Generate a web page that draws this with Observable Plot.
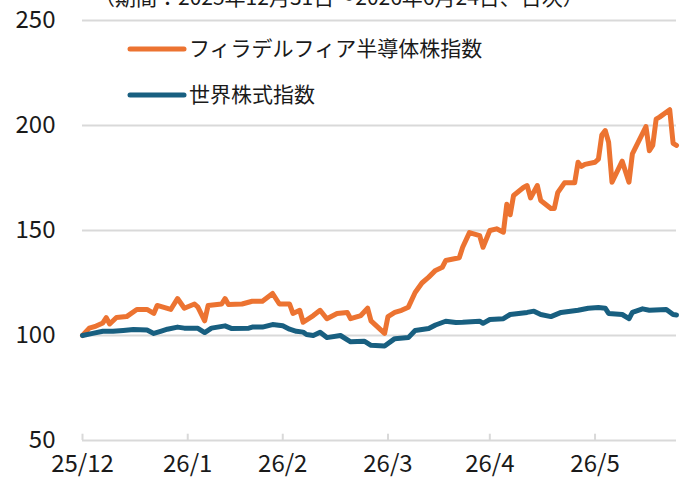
<!DOCTYPE html>
<html><head><meta charset="utf-8">
<script src="https://cdn.jsdelivr.net/npm/d3@7"></script>
<script src="https://cdn.jsdelivr.net/npm/@observablehq/plot@0.6"></script>
<style>body{margin:0;background:#fff} #chart svg{display:block}</style>
</head><body><div id="chart"></div>
<script>
const semiDates = ["2025-12-31","2026-01-02","2026-01-04","2026-01-06","2026-01-07","2026-01-08","2026-01-10","2026-01-13","2026-01-16","2026-01-19","2026-01-21","2026-01-22","2026-01-25","2026-01-26","2026-01-28","2026-01-30","2026-02-02","2026-02-03","2026-02-05","2026-02-06","2026-02-10","2026-02-11","2026-02-12","2026-02-16","2026-02-19","2026-02-22","2026-02-25","2026-02-27","2026-03-02","2026-03-03","2026-03-05","2026-03-06","2026-03-09","2026-03-11","2026-03-13","2026-03-16","2026-03-19","2026-03-20","2026-03-23","2026-03-25","2026-03-26","2026-03-30","2026-03-31","2026-04-02","2026-04-04","2026-04-06","2026-04-08","2026-04-10","2026-04-12","2026-04-14","2026-04-16","2026-04-17","2026-04-21","2026-04-22","2026-04-24","2026-04-27","2026-04-28","2026-04-30","2026-05-02","2026-05-04","2026-05-05","2026-05-06","2026-05-07","2026-05-10","2026-05-11","2026-05-12","2026-05-14","2026-05-15","2026-05-18","2026-05-19","2026-05-20","2026-05-22","2026-05-25","2026-05-26","2026-05-27","2026-05-28","2026-05-31","2026-06-01","2026-06-02","2026-06-03","2026-06-04","2026-06-05","2026-06-08","2026-06-10","2026-06-11","2026-06-15","2026-06-16","2026-06-17","2026-06-18","2026-06-19","2026-06-22","2026-06-23","2026-06-24"];
const semiValues = [100,103.5,104.5,106,108.5,105.5,108.6,109,112.4,112.4,110.5,114.3,112.9,112.4,117.6,113,115,113.5,107,114.3,115,117.6,114.8,115,116.3,116.3,120,115,115,110.5,112,106.3,109.5,112,108,110.5,111,108,109.5,113,107,101,109,111,112,113.5,120.5,125,127.8,131,132.5,135.7,137,142,149,147.6,142,150,150.8,149.2,162.5,157.5,166.7,170.6,171.4,165.5,171.4,164.3,160.5,160.5,168,172.7,172.7,182.5,180.5,181.5,182.5,184,195.5,197.6,192,173,183,173,186.5,199.5,188,190.5,203,204,207.5,191.5,190.5];
const worldDates = ["2025-12-31","2026-01-03","2026-01-06","2026-01-09","2026-01-12","2026-01-15","2026-01-19","2026-01-21","2026-01-23","2026-01-25","2026-01-28","2026-01-30","2026-02-03","2026-02-05","2026-02-07","2026-02-11","2026-02-13","2026-02-18","2026-02-19","2026-02-22","2026-02-25","2026-02-28","2026-03-02","2026-03-04","2026-03-06","2026-03-07","2026-03-09","2026-03-11","2026-03-13","2026-03-17","2026-03-20","2026-03-24","2026-03-26","2026-03-30","2026-04-02","2026-04-06","2026-04-08","2026-04-12","2026-04-14","2026-04-17","2026-04-20","2026-04-22","2026-04-27","2026-04-28","2026-04-30","2026-05-04","2026-05-06","2026-05-11","2026-05-13","2026-05-15","2026-05-18","2026-05-21","2026-05-26","2026-05-29","2026-06-01","2026-06-03","2026-06-04","2026-06-08","2026-06-10","2026-06-11","2026-06-14","2026-06-16","2026-06-21","2026-06-23","2026-06-24"];
const worldValues = [100,101,102,102,102.4,102.9,102.6,101,102,103,104,103.5,103.4,101.4,103.5,104.6,103.3,103.5,104,104,105.2,104.6,103,102,101.6,100.5,100,101.5,99,100,97,97.3,95.3,95,98.5,99,102.4,103.3,105,106.8,106.2,106.3,106.8,105.8,107.6,108,110,111,111.6,110,109,111,112,113,113.3,113,110.5,110,108,111,112.7,112,112.4,110,109.8];
const tickDates = ["2025-12-31","2026-01-31","2026-02-28","2026-03-31","2026-04-30","2026-05-31"];
const tickLabels = ["25/12","26/1","26/2","26/3","26/4","26/5"];
const yTicks = [50,100,150,200,250];
const gridValues = [100,150,200,250];
const seriesNames = ["フィラデルフィア半導体株指数","世界株式指数"];
const seriesColors = ["#EC7331","#185F80"];
const subtitle = "（期間：2025年12月31日～2026年6月24日、日次）";

const semi = semiDates.map((d,i)=>({date:new Date(d), value:semiValues[i]}));
const world = worldDates.map((d,i)=>({date:new Date(d), value:worldValues[i]}));
const ticks = tickDates.map(d=>new Date(d));
const fmt = new Map(ticks.map((t,i)=>[+t, tickLabels[i]]));

const chart = Plot.plot({
  width:687, height:478, marginTop:20, marginBottom:38, marginLeft:82, marginRight:11,
  style:{fontFamily:"'Noto Sans CJK JP', 'Noto Sans', sans-serif", fontSize:"24px", color:"#1a1a1a", background:"#fff"},
  x:{type:"utc", domain:[new Date("2025-12-31"), new Date("2026-06-24")]},
  y:{domain:[50,250]},
  marks:[
    Plot.ruleY(gridValues, {stroke:"#d9d9d9", strokeWidth:2}),
    Plot.ruleY([50], {stroke:"#d9d9d9", strokeWidth:2}),
    Plot.ruleX(ticks, {y1:50, y2:53, stroke:"#d9d9d9", strokeWidth:2}),
    Plot.axisY(yTicks, {tickSize:0, tickPadding:27, label:null, fontSize:24}),
    Plot.axisX(ticks, {tickSize:0, tickPadding:14, label:null, fontSize:24, tickFormat:d=>fmt.get(+d)}),
    Plot.line(semi, {x:"date", y:"value", stroke:seriesColors[0], strokeWidth:5, strokeLinejoin:"round", strokeLinecap:"round"}),
    Plot.line(world, {x:"date", y:"value", stroke:seriesColors[1], strokeWidth:5, strokeLinejoin:"round", strokeLinecap:"round"})
  ]
});
document.getElementById("chart").appendChild(chart);
const svg = d3.select(chart);
const leg = svg.append("g").attr("font-family","'Noto Sans CJK JP', sans-serif").attr("fill","#1a1a1a").attr("text-anchor","start");
const legY = [49,95];
seriesNames.forEach((n,i)=>{
  leg.append("line").attr("x1",130).attr("x2",184).attr("y1",legY[i]).attr("y2",legY[i])
    .attr("stroke",seriesColors[i]).attr("stroke-width",5).attr("stroke-linecap","round");
  leg.append("text").attr("x",189).attr("y",legY[i]).attr("dy","0.35em").attr("font-size",21).text(n);
});
svg.append("text").attr("x",94).attr("y",5).attr("font-size",21).attr("text-anchor","start")
  .attr("font-family","'Noto Sans CJK JP', sans-serif").attr("fill","#1a1a1a").text(subtitle);
</script>
</body></html>
